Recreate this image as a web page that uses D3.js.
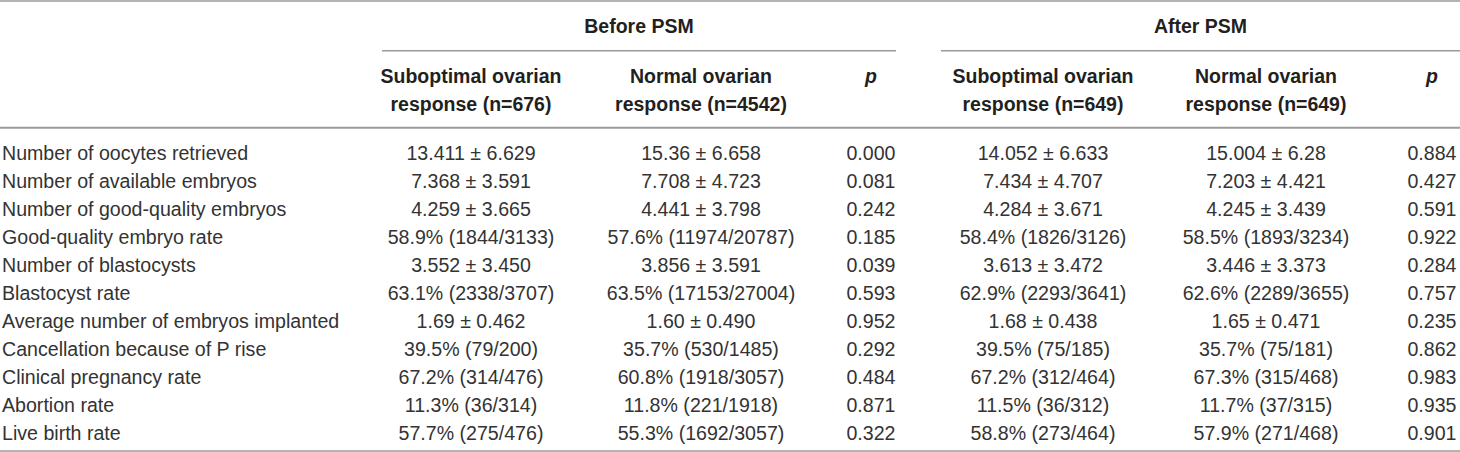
<!DOCTYPE html>
<html>
<head>
<meta charset="utf-8">
<script src="https://cdn.jsdelivr.net/npm/d3@7"></script>
<style>
  body { margin: 0; background: #fff; }
  svg { display: block; font-family: "Liberation Sans", Arial, sans-serif; }
</style>
</head>
<body>
<div id="chart"></div>
<script>
// table content
const groups = ['Before PSM', 'After PSM'];
const colHeaders = [
  ['Suboptimal ovarian', 'response (n=676)'],
  ['Normal ovarian', 'response (n=4542)'],
  ['p'],
  ['Suboptimal ovarian', 'response (n=649)'],
  ['Normal ovarian', 'response (n=649)'],
  ['p']
];
const rowLabels = [
  'Number of oocytes retrieved',
  'Number of available embryos',
  'Number of good-quality embryos',
  'Good-quality embryo rate',
  'Number of blastocysts',
  'Blastocyst rate',
  'Average number of embryos implanted',
  'Cancellation because of P rise',
  'Clinical pregnancy rate',
  'Abortion rate',
  'Live birth rate'
];
const beforeSub = ['13.411 ± 6.629', '7.368 ± 3.591', '4.259 ± 3.665', '58.9% (1844/3133)', '3.552 ± 3.450',
  '63.1% (2338/3707)', '1.69 ± 0.462', '39.5% (79/200)', '67.2% (314/476)', '11.3% (36/314)', '57.7% (275/476)'];
const beforeNorm = ['15.36 ± 6.658', '7.708 ± 4.723', '4.441 ± 3.798', '57.6% (11974/20787)', '3.856 ± 3.591',
  '63.5% (17153/27004)', '1.60 ± 0.490', '35.7% (530/1485)', '60.8% (1918/3057)', '11.8% (221/1918)', '55.3% (1692/3057)'];
const beforeP = ['0.000', '0.081', '0.242', '0.185', '0.039', '0.593', '0.952', '0.292', '0.484', '0.871', '0.322'];
const afterSub = ['14.052 ± 6.633', '7.434 ± 4.707', '4.284 ± 3.671', '58.4% (1826/3126)', '3.613 ± 3.472',
  '62.9% (2293/3641)', '1.68 ± 0.438', '39.5% (75/185)', '67.2% (312/464)', '11.5% (36/312)', '58.8% (273/464)'];
const afterNorm = ['15.004 ± 6.28', '7.203 ± 4.421', '4.245 ± 3.439', '58.5% (1893/3234)', '3.446 ± 3.373',
  '62.6% (2289/3655)', '1.65 ± 0.471', '35.7% (75/181)', '67.3% (315/468)', '11.7% (37/315)', '57.9% (271/468)'];
const afterP = ['0.884', '0.427', '0.591', '0.922', '0.284', '0.757', '0.235', '0.862', '0.983', '0.935', '0.901'];

const W = 1460, H = 452;
const textColor = '#231f20';
const bodyColor = '#333';
const ruleColor = '#9a9a9a';

const svg = d3.select('#chart').append('svg')
  .attr('width', W).attr('height', H);

// column centres and row baselines
const colX = d3.scaleOrdinal().domain(d3.range(6)).range([471, 701, 871, 1043, 1266, 1432]);
const rowY = d3.scaleLinear().domain([0, rowLabels.length - 1]).range([160, 440]);
const groupSpan = [[382, 896], [941, W]];

// rules
const rule = (x1, x2, y, w) => svg.append('line')
  .attr('x1', x1).attr('x2', x2).attr('y1', y).attr('y2', y)
  .attr('stroke', ruleColor).attr('stroke-width', w);
rule(0, W, 1, 1.5);
groupSpan.forEach(s => rule(s[0], s[1], 50.7, 1.5));
rule(0, W, 127.7, 2);
rule(0, W, 451, 1.5);

// group headers
svg.append('g').selectAll('text').data(groups).join('text')
  .attr('x', (d, i) => (groupSpan[i][0] + groupSpan[i][1]) / 2)
  .attr('y', 32.7)
  .attr('text-anchor', 'middle')
  .attr('font-weight', 'bold')
  .attr('font-size', 19.5)
  .attr('fill', textColor)
  .text(d => d);

// column headers
colHeaders.forEach((lines, c) => {
  svg.append('text')
    .attr('text-anchor', 'middle')
    .attr('font-weight', 'bold')
    .attr('font-size', 19.5)
    .attr('fill', textColor)
    .attr('font-style', lines.length === 1 ? 'italic' : null)
    .selectAll('tspan').data(lines).join('tspan')
    .attr('x', colX(c))
    .attr('y', (d, i) => 83 + i * 28)
    .text(d => d);
});

// body
const cols = [beforeSub, beforeNorm, beforeP, afterSub, afterNorm, afterP];
const body = svg.append('g')
  .attr('font-size', 19.6)
  .attr('fill', bodyColor);

body.selectAll('text.label').data(rowLabels).join('text')
  .attr('class', 'label')
  .attr('x', 2)
  .attr('y', (d, i) => rowY(i))
  .text(d => d);

cols.forEach((col, c) => {
  body.selectAll('text.c' + c).data(col).join('text')
    .attr('class', 'c' + c)
    .attr('x', colX(c))
    .attr('y', (d, i) => rowY(i))
    .attr('text-anchor', 'middle')
    .text(d => d);
});
</script>
</body>
</html>
